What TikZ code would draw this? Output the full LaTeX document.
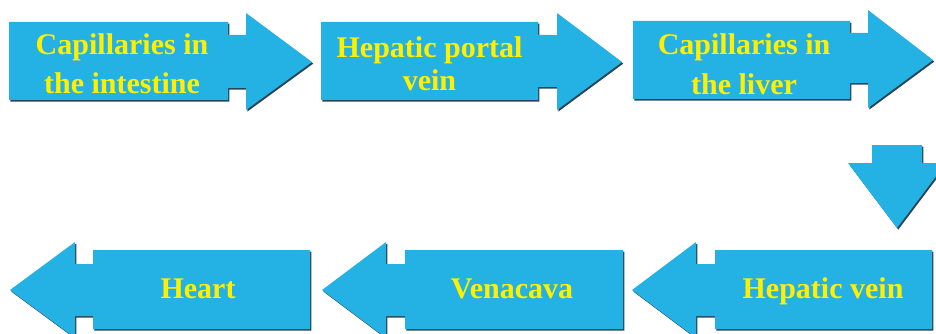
\documentclass[tikz,border=0pt]{standalone}
\usepackage{fontspec}
\setmainfont{Liberation Serif}
\definecolor{arrowfill}{RGB}{36,178,229}
\definecolor{arrowedge}{RGB}{40,70,85}
\definecolor{labelyellow}{RGB}{255,240,0}
\tikzset{
  arrowshape/.style={fill=arrowfill},
  arrowshadow/.style={fill=arrowedge, shift={(1.3,1.6)}},
  lbl/.style={anchor=base, inner sep=0pt, text=labelyellow,
              font=\fontsize{30}{36}\selectfont\bfseries}
}
\begin{document}
\begin{tikzpicture}[x=1pt,y=-1pt]
\useasboundingbox (0,0) rectangle (936,334);
\clip (0,0) rectangle (936,334);
% shapes (shadow then fill)
\foreach \s in {arrowshadow,arrowshape}{
  % top row, pointing right
  \path[\s] (9,22)--(228,22)--(228,35)--(246,35)--(246,13)--(312,62)--(246,110)--(246,88)--(228,88)--(228,100)--(9,100)--cycle;
  \path[\s] (321,22)--(538,22)--(538,35)--(557,35)--(557,13)--(622,62)--(557,110)--(557,87)--(538,87)--(538,100)--(321,100)--cycle;
  \path[\s] (633,21)--(850,21)--(850,33)--(868,33)--(868,10)--(933,60)--(868,108)--(868,83)--(850,83)--(850,99)--(633,99)--cycle;
  % down arrow
  \path[\s] (872,145)--(922,145)--(922,163)--(946,163)--(897,228)--(848,163)--(872,163)--cycle;
  % bottom row, pointing left
  \path[\s] (10,290)--(75,242)--(75,264)--(93,264)--(93,250)--(310,250)--(310,329)--(93,329)--(93,316)--(75,316)--(75,338)--cycle;
  \path[\s] (322,290)--(386,242)--(386,264)--(405,264)--(405,250)--(623,250)--(623,329)--(405,329)--(405,316)--(386,316)--(386,338)--cycle;
  \path[\s] (632,290)--(696,242)--(696,264)--(715,264)--(715,250)--(932,250)--(932,329)--(715,329)--(715,316)--(696,316)--(696,338)--cycle;
}
% labels
\node[lbl] (l1a) at (122,55) {Capillaries in};
\node[lbl] (l1b) at (122,94) {the intestine};
\node[lbl] (l2a) at (429.5,58) {Hepatic portal};
\node[lbl] (l2b) at (429.5,91) {vein};
\node[lbl] (l3a) at (744,55) {Capillaries in};
\node[lbl] (l3b) at (744,95) {the liver};
\node[lbl] (l4) at (823,298) {Hepatic vein};
\node[lbl] (l5) at (512,298) {Venacava};
\node[lbl] (l6) at (198,298) {Heart};
\end{tikzpicture}
\end{document}
